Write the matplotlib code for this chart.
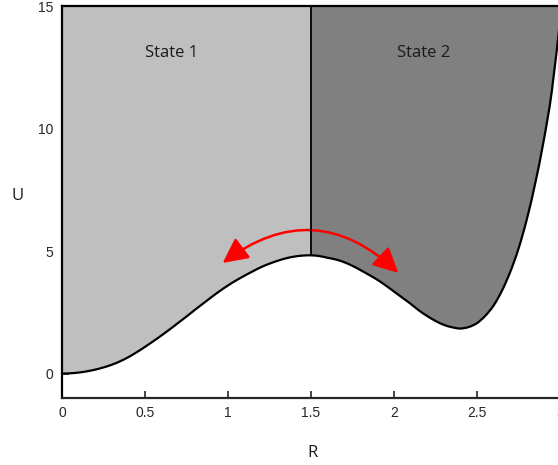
import numpy as np
import matplotlib.pyplot as plt
from matplotlib.path import Path
from matplotlib.patches import FancyArrowPatch, PathPatch

# potential curve
r_vals = [0.00, 0.05, 0.10, 0.15, 0.20, 0.25, 0.30, 0.35, 0.40, 0.45,
          0.50, 0.55, 0.60, 0.65, 0.70, 0.75, 0.80, 0.85, 0.90, 0.95,
          1.00, 1.05, 1.10, 1.15, 1.20, 1.25, 1.30, 1.35, 1.40, 1.45,
          1.50, 1.55, 1.60, 1.65, 1.70, 1.75, 1.80, 1.85, 1.90, 1.95,
          2.00, 2.05, 2.10, 2.15, 2.20, 2.25, 2.30, 2.35, 2.40, 2.45,
          2.50, 2.55, 2.60, 2.65, 2.70, 2.75, 2.80, 2.85, 2.90, 2.95, 3.00]
u_vals = [0.00, 0.01, 0.04, 0.09, 0.16, 0.25, 0.36, 0.50, 0.67, 0.87,
          1.09, 1.32, 1.56, 1.81, 2.07, 2.33, 2.60, 2.86, 3.12, 3.37,
          3.60, 3.81, 4.00, 4.18, 4.35, 4.49, 4.61, 4.71, 4.78, 4.82,
          4.83, 4.80, 4.73, 4.66, 4.55, 4.40, 4.22, 4.03, 3.83, 3.60,
          3.35, 3.10, 2.85, 2.58, 2.35, 2.15, 1.99, 1.89, 1.84, 1.90,
          2.06, 2.36, 2.78, 3.38, 4.15, 5.10, 6.30, 7.75, 9.45, 11.50, 14.40]

barrier_r = 1.5
state_labels = ['State 1', 'State 2']
state_pos = [(0.66, 13.1), (2.18, 13.1)]
x_ticks = [0, 0.5, 1, 1.5, 2, 2.5, 3]
x_ticklabels = ['0', '0.5', '1', '1.5', '2', '2.5', '3']
y_ticks = [0, 5, 10, 15]

R = np.array(r_vals)
U = np.array(u_vals)
u_top = 15
pts = np.column_stack([R, U])


def smooth_codes(p):
    # draw the read points with smooth bezier joins (catmull-rom style)
    verts = [p[0]]
    codes = [Path.MOVETO]
    n = len(p)
    for i in range(n - 1):
        p0 = p[max(i - 1, 0)]
        p1, p2 = p[i], p[i + 1]
        p3 = p[min(i + 2, n - 1)]
        verts += [p1 + (p2 - p0) / 6, p2 - (p3 - p1) / 6, p2]
        codes += [Path.CURVE4] * 3
    return verts, codes


fig = plt.figure(figsize=(5.58, 4.65), dpi=100)
ax = fig.add_axes([62 / 558, 67 / 465, 498 / 558, 391.5 / 465])

i_bar = int(np.argmin(np.abs(R - barrier_r)))
left_pts = pts[:i_bar + 1]
right_pts = pts[i_bar:]

# shaded regions above the curve
for seg, col in [(left_pts, '#bfbfbf'), (right_pts, '#808080')]:
    v, c = smooth_codes(seg)
    v += [(seg[-1, 0], u_top), (seg[0, 0], u_top), seg[0]]
    c += [Path.LINETO, Path.LINETO, Path.CLOSEPOLY]
    ax.add_patch(PathPatch(Path(v, c), facecolor=col, edgecolor='none', zorder=1))

v, c = smooth_codes(pts)
ax.add_patch(PathPatch(Path(v, c), facecolor='none', edgecolor='black', lw=1.6, zorder=3))

ax.plot([barrier_r, barrier_r], [U[i_bar], u_top], color='black', lw=1.3, zorder=4)

for lab, (x, y) in zip(state_labels, state_pos):
    ax.text(x, y, lab, ha='center', va='center', fontsize=12,
            family='Open Sans', color='#1a1a1a')

# red double arrow over the barrier
arr = FancyArrowPatch((0.968, 4.52), (2.026, 4.11),
                      connectionstyle='arc3,rad=-0.42',
                      arrowstyle='<|-|>,head_length=0.9,head_width=0.45',
                      mutation_scale=17, shrinkA=0, shrinkB=0,
                      color='red', lw=1.8, zorder=3.5)
ax.add_patch(arr)

ax.set_xlim(0, 3)
ax.set_ylim(-1, 15)
ax.set_xticks(x_ticks)
ax.set_xticklabels(x_ticklabels)
ax.set_yticks(y_ticks)
ax.set_axisbelow(True)
ax.tick_params(direction='in', length=5, width=1.2, colors='#262626',
               labelsize=10, pad=6, top=False, right=False)
for lbl in ax.get_xticklabels() + ax.get_yticklabels():
    lbl.set_family('Liberation Sans')

for side in ['left', 'bottom', 'top', 'right']:
    ax.spines[side].set_linewidth(1.6)
ax.spines['left'].set_color('black')
ax.spines['top'].set_color('black')
ax.spines['bottom'].set_color('#262626')

ax.set_xlabel('R', fontsize=12, family='Open Sans', color='#1a1a1a')
ax.set_ylabel('U', fontsize=12, family='Open Sans', color='#1a1a1a', rotation=0)
ax.xaxis.set_label_coords(0.504, -0.12)
ax.yaxis.set_label_coords(-0.09, 0.495)

fig.savefig('out.png', dpi=100)
